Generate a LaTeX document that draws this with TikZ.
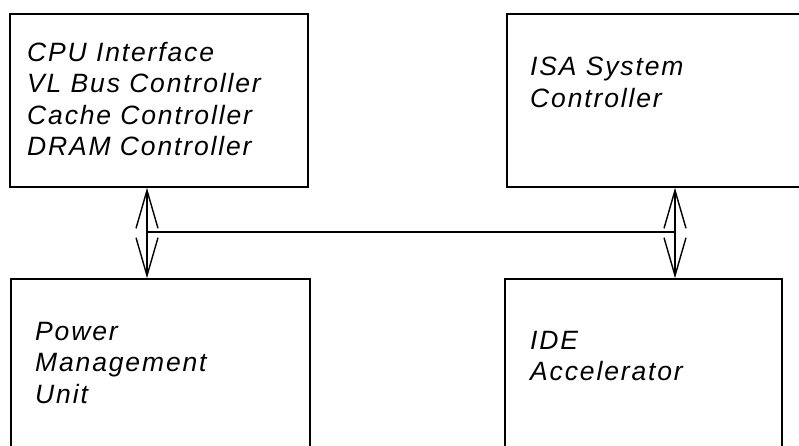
\documentclass[tikz,border=0pt]{standalone}
\usepackage{fontspec}
\setmainfont{Liberation Sans}[LetterSpace=7]
\usetikzlibrary{arrows.meta}
\begin{document}
\begin{tikzpicture}[x=1pt,y=-1pt,
  box/.style={draw, line width=1.6pt, rectangle, inner sep=0pt},
  lbl/.style={font=\itshape\fontsize{26.5}{31.3}\selectfont, align=left, anchor=north west, inner sep=0pt},
  conn/.style={line width=1.4pt},
  bus/.style={conn, {Straight Barb[length=38pt,width=22pt]}-{Straight Barb[length=38pt,width=22pt]}}]
\useasboundingbox (0,0) rectangle (799,445);
\clip (0,0) rectangle (799,445);
\node[box, minimum width=298pt, minimum height=173pt] (b1) at (159,100.5) {};
\node[box, minimum width=323pt, minimum height=173pt] (b2) at (668.5,100.5) {};
\node[box, minimum width=299pt, minimum height=201pt] (b3) at (160.5,379.5) {};
\node[box, minimum width=277pt, minimum height=201pt] (b4) at (643.5,379.5) {};
\node[lbl] (t1) at (27,42) {CPU Interface\\VL Bus Controller\\Cache Controller\\DRAM Controller};
\node[lbl] (t2) at (530,57) {ISA System\\Controller};
\node[lbl] (t3) at (35,322) {Power\\Management\\Unit};
\node[lbl] (t4) at (530,331) {IDE\\Accelerator};
\coordinate (xl) at (147,232);
\coordinate (xr) at (675,232);
\draw[bus] (b1.south -| xl) -- (b3.north -| xl);
\draw[bus] (b2.south -| xr) -- (b4.north -| xr);
\draw[conn] (xl) -- (xr);
\end{tikzpicture}
\end{document}
